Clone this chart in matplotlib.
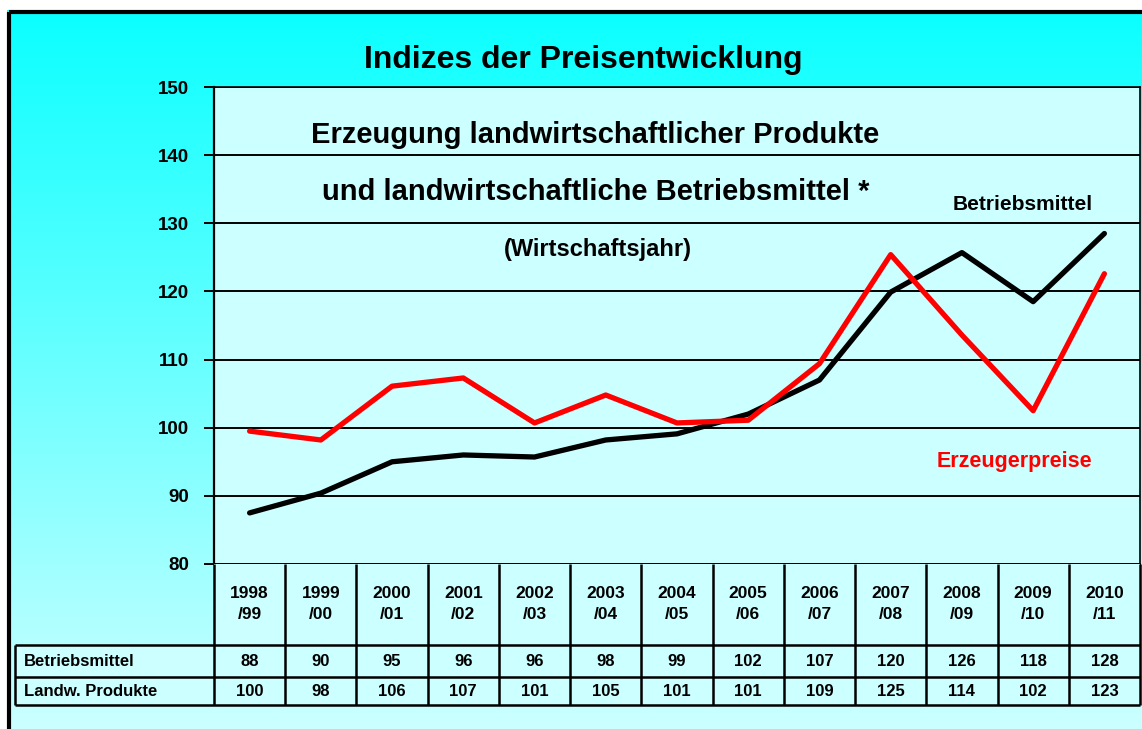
import numpy as np
import matplotlib
matplotlib.use('Agg')
from matplotlib import pyplot as plt
from matplotlib.patches import Rectangle

# data
jahre = ['1998\n/99', '1999\n/00', '2000\n/01', '2001\n/02', '2002\n/03', '2003\n/04', '2004\n/05',
         '2005\n/06', '2006\n/07', '2007\n/08', '2008\n/09', '2009\n/10', '2010\n/11']
betriebsmittel = [87.5, 90.4, 95.0, 96.0, 95.7, 98.2, 99.1, 102.0, 107.0, 119.9, 125.7, 118.5, 128.5]
erzeugerpreise = [99.5, 98.2, 106.1, 107.3, 100.7, 104.8, 100.7, 101.1, 109.4, 125.4, 113.6, 102.5, 122.6]
tab_betrieb = ['88', '90', '95', '96', '96', '98', '99', '102', '107', '120', '126', '118', '128']
tab_produkte = ['100', '98', '106', '107', '101', '105', '101', '101', '109', '125', '114', '102', '123']
zeilen = ['Betriebsmittel', 'Landw. Produkte']
yticks = [80, 90, 100, 110, 120, 130, 140, 150]

plt.rcParams['font.family'] = ['Liberation Sans', 'DejaVu Sans']
plt.rcParams['font.weight'] = 'bold'

W, H = 1142, 729
fig = plt.figure(figsize=(W/100, H/100), dpi=100)
fig.patch.set_facecolor('white')

# gradient background
bg = fig.add_axes([0, 0, 1, 1])
grad = np.linspace(0, 1, 256)
img = np.zeros((256, 1, 3))
img[:, 0, 0] = 0.04 + 0.76*grad
img[:, 0, 1] = 1.0
img[:, 0, 2] = 1.0
bg.imshow(img, aspect='auto', extent=[7, W+20, H, 10])
bg.set_xlim(0, W)
bg.set_ylim(H, 0)
bg.add_patch(Rectangle((9, 12), W+20, H+20, fill=False, edgecolor='black', lw=3))
bg.axis('off')

def fx(px):
    return px/W

def fy(py):
    return 1-py/H

left, right, top, bot = 214, 1140, 87, 564
ax = fig.add_axes([fx(left), fy(bot), fx(right-left), (bot-top)/H])
ax.set_facecolor('#ccffff')
x = np.arange(len(jahre))
ax.plot(x, betriebsmittel, color='black', lw=3.8, solid_capstyle='round', solid_joinstyle='round', zorder=3)
ax.plot(x, erzeugerpreise, color='#ff0000', lw=3.8, solid_capstyle='round', solid_joinstyle='round', zorder=3)
ax.set_xlim(-0.5, len(jahre)-0.5)
ax.set_ylim(80, 150)
ax.set_yticks(yticks)
ax.set_xticks([])
ax.yaxis.grid(True, color='black', lw=1.4)
ax.tick_params(axis='y', direction='out', length=7, width=1.4, pad=11, labelsize=13.5)
for lab in ax.get_yticklabels():
    lab.set_fontweight('bold')
for s in ['top', 'right', 'bottom']:
    ax.spines[s].set_linewidth(1.2)
ax.spines['left'].set_linewidth(1.6)

ax.text(0.412, 0.90, 'Erzeugung landwirtschaftlicher Produkte', transform=ax.transAxes,
        ha='center', va='center', fontsize=21, fontweight='bold')
ax.text(0.412, 0.78, 'und landwirtschaftliche Betriebsmittel *', transform=ax.transAxes,
        ha='center', va='center', fontsize=21, fontweight='bold')
ax.text(0.415, 0.66, '(Wirtschaftsjahr)', transform=ax.transAxes,
        ha='center', va='center', fontsize=17, fontweight='bold')
ax.text(11.83, 132.7, 'Betriebsmittel', ha='right', va='center', fontsize=15, fontweight='bold')
ax.text(11.83, 95.0, 'Erzeugerpreise', ha='right', va='center', fontsize=15.5, fontweight='bold', color='#ff0000')

fig.text(fx(583), fy(60), 'Indizes der Preisentwicklung', ha='center', va='center',
         fontsize=23, fontweight='bold')

# table below the chart
tl, tb = 14, 705
tax = fig.add_axes([fx(tl), fy(tb), fx(right-tl), (tb-bot)/H])
unit = (right-left)/len(jahre)
xmin = -0.5-(left-tl)/unit
tax.set_xlim(xmin, len(jahre)-0.5)
tax.set_ylim(tb-bot, 0)
tax.axis('off')
h0, h1, h2 = 81, 113, 141
tax.add_patch(Rectangle((-0.5, 0), len(jahre), h0, facecolor='#ccffff', edgecolor='none'))
tax.add_patch(Rectangle((xmin, h0), len(jahre)-0.5-xmin, h2-h0, facecolor='#ccffff', edgecolor='none'))
lw = 1.8
tax.vlines(np.arange(len(jahre)+1)-0.5, 0, h2, color='black', lw=lw, clip_on=False)
tax.vlines([xmin+0.02], h0, h2, color='black', lw=lw, clip_on=False)
tax.hlines([h0, h1, h2], xmin+0.02, len(jahre)-0.5, color='black', lw=lw, clip_on=False)
for i, j in enumerate(jahre):
    tax.text(i, 40, j, ha='center', va='center', fontsize=12.5, fontweight='bold', linespacing=1.45)
    tax.text(i, (h0+h1)/2+1, tab_betrieb[i], ha='center', va='center', fontsize=12, fontweight='bold')
    tax.text(i, (h1+h2)/2+1, tab_produkte[i], ha='center', va='center', fontsize=12, fontweight='bold')
tax.text(xmin+0.14, (h0+h1)/2+1, zeilen[0], ha='left', va='center', fontsize=12, fontweight='bold')
tax.text(xmin+0.14, (h1+h2)/2+1, zeilen[1], ha='left', va='center', fontsize=12, fontweight='bold')

fig.savefig('out.png', dpi=100)
